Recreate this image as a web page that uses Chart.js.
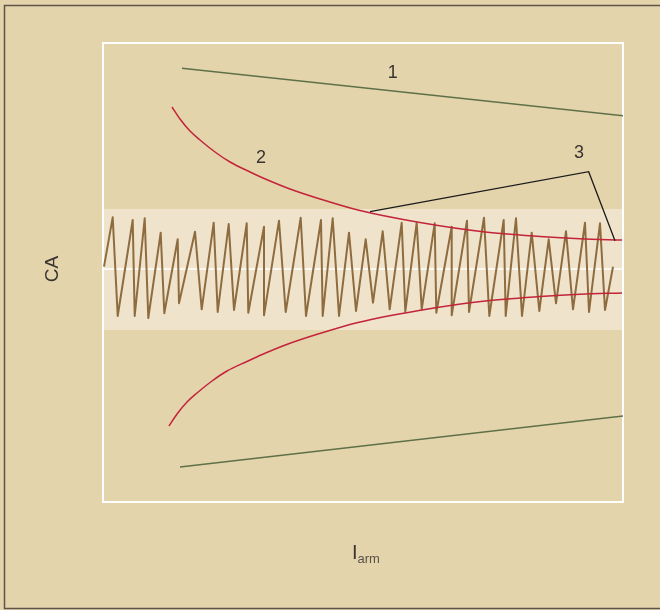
<!DOCTYPE html>
<html>
<head>
<meta charset="utf-8">
<script src="https://cdn.jsdelivr.net/npm/chart.js@4/dist/chart.umd.min.js"></script>
<style>
  body { margin: 0; background: #e4d4ac; }
  canvas { display: block; }
</style>
</head>
<body>
<canvas id="chart" width="660" height="610"></canvas>
<script>
// values (arbitrary units, I_arm across, CA up)
const xRange = [0, 520];
const yRange = [-233, 226];
const bandRange = [-61, 60];

// curve 1 - green straight limits
const line1TopX = [79, 520];
const line1TopY = [200.7, 153.3];
const line1BotX = [77, 520];
const line1BotY = [-198, -147];

// curve 2 - red limits
const curve2TopX = [69, 77, 87, 97, 112, 127, 147, 160, 187, 217, 257, 317, 380, 437, 477, 519];
const curve2TopY = [162, 150, 138, 129, 117, 107, 97, 91, 80, 70, 58.4, 46.4, 37.2, 32.5, 30.2, 29];
const curve2BotX = [66, 74, 84, 94, 109, 124, 145, 158, 185, 215, 255, 316, 380, 437, 477, 519];
const curve2BotY = [-157, -145, -133, -124, -112, -102, -92, -86, -75, -65, -53.4, -41.4, -32.2, -27.5, -25.2, -24];

// the CA signal
const zigX = [1, 9.7, 14.7, 29.7, 31.7, 41.7, 45.3, 57.7, 61.3, 74.7, 76, 92, 98.7, 110.7, 114.7,
  125.7, 131, 143.7, 145.3, 161, 161, 176, 182.7, 197.7, 203, 218, 219.7, 229.7, 236, 246, 253,
  262.7, 270, 279.7, 286.7, 298.7, 302.3, 313.7, 318.7, 331.7, 333.3, 348.7, 348.7, 364, 366, 381,
  386.3, 400.7, 402.7, 413, 419, 428.7, 436.3, 445.7, 453, 463, 470, 482, 486, 497, 502, 510];
const zigY = [2.3, 51.7, -47, 49, -47, 50.7, -49, 36.3, -44.3, 29.7, -34.3, 37.3, -40.3, 46.3, -43,
  45, -41, 45.7, -43.7, 42.3, -46.3, 48.3, -43, 51.3, -47, 49, -47, 50.7, -47, 36.3, -42,
  29.7, -33.7, 37.7, -40.3, 46.3, -42.7, 46.3, -40.3, 45.7, -43.7, 42.3, -46.3, 48.3, -43, 51.3,
  -47, 49, -47, 50.7, -47, 36.3, -42, 29.7, -34.3, 37.7, -40.3, 46.3, -43, 45.7, -41, 2.3];

// pointer for label 3
const pointerX = [267, 485.7, 512];
const pointerY = [57.3, 97.3, 28.3];

const labelText = ['1', '2', '3'];
const labelX = [289.7, 158, 476];
const labelY = [195.7, 110.7, 115.7];

function pts(xs, ys) {
  return xs.map((x, i) => ({ x: x, y: ys[i] }));
}

const bgColor = '#e4d4ac';
const bandColor = '#efe3cb';
const textColor = '#3a3430';

const decor = {
  id: 'decor',
  beforeDraw(chart) {
    const ctx = chart.ctx;
    ctx.save();
    ctx.fillStyle = bgColor;
    ctx.fillRect(0, 0, chart.width, chart.height);
    ctx.strokeStyle = '#5e5447';
    ctx.lineWidth = 1.5;
    ctx.beginPath();
    ctx.moveTo(670, 5.5);
    ctx.lineTo(4.5, 5.5);
    ctx.lineTo(4.5, 608.5);
    ctx.lineTo(670, 608.5);
    ctx.stroke();
    ctx.restore();
  },
  beforeDatasetsDraw(chart) {
    const ctx = chart.ctx;
    const a = chart.chartArea;
    const y = chart.scales.y;
    ctx.save();
    const yt = y.getPixelForValue(bandRange[1]);
    const yb = y.getPixelForValue(bandRange[0]);
    ctx.fillStyle = bandColor;
    ctx.fillRect(a.left, yt, a.right - a.left, yb - yt);
    ctx.strokeStyle = '#ffffff';
    ctx.lineWidth = 1.5;
    ctx.beginPath();
    ctx.moveTo(a.left, y.getPixelForValue(0));
    ctx.lineTo(a.right, y.getPixelForValue(0));
    ctx.stroke();
    ctx.lineWidth = 2;
    ctx.strokeRect(a.left, a.top, a.right - a.left, a.bottom - a.top);
    ctx.restore();
  },
  afterDatasetsDraw(chart) {
    const ctx = chart.ctx;
    const sx = chart.scales.x, sy = chart.scales.y;
    const a = chart.chartArea;
    ctx.save();
    ctx.fillStyle = textColor;
    ctx.textAlign = 'center';
    ctx.textBaseline = 'middle';
    ctx.font = '18px "Liberation Sans", Arial, sans-serif';
    labelText.forEach((t, i) => {
      ctx.fillText(t, sx.getPixelForValue(labelX[i]), sy.getPixelForValue(labelY[i]));
    });
    // y title
    ctx.save();
    ctx.translate(a.left - 50, sy.getPixelForValue(0));
    ctx.rotate(-Math.PI / 2);
    ctx.font = '19px "Liberation Sans", Arial, sans-serif';
    ctx.fillText('CA', 0, 0);
    ctx.restore();
    // x title with subscript
    ctx.textAlign = 'left';
    ctx.textBaseline = 'alphabetic';
    ctx.font = '20px "Liberation Sans", Arial, sans-serif';
    const tx = 352, ty = 559;
    ctx.fillText('I', tx, ty);
    const w = ctx.measureText('I').width;
    ctx.fillStyle = '#5a5248';
    ctx.font = '13px "Liberation Sans Narrow", "Liberation Sans", Arial, sans-serif';
    ctx.fillText('arm', tx + w, ty + 4);
    ctx.restore();
  }
};

new Chart(document.getElementById('chart'), {
  type: 'scatter',
  data: {
    datasets: [
      { data: pts(pointerX, pointerY), borderColor: '#1a1a1a', borderWidth: 1.3, order: 0 },
      { data: pts(curve2TopX, curve2TopY), borderColor: '#c3243a', borderWidth: 1.5, cubicInterpolationMode: 'monotone', order: 1 },
      { data: pts(curve2BotX, curve2BotY), borderColor: '#c3243a', borderWidth: 1.5, cubicInterpolationMode: 'monotone', order: 1 },
      { data: pts(zigX, zigY), borderColor: '#8e6c40', borderWidth: 2, borderJoinStyle: 'round', order: 2 },
      { data: pts(line1TopX, line1TopY), borderColor: '#5f7048', borderWidth: 1.5, order: 3 },
      { data: pts(line1BotX, line1BotY), borderColor: '#5f7048', borderWidth: 1.5, order: 3 }
    ].map(d => Object.assign({ showLine: true, pointRadius: 0, fill: false, tension: 0 }, d))
  },
  options: {
    responsive: false,
    animation: false,
    devicePixelRatio: 1,
    layout: { padding: { left: 103, right: 37, top: 43, bottom: 108 } },
    plugins: { legend: { display: false }, tooltip: { enabled: false } },
    scales: {
      x: { type: 'linear', min: xRange[0], max: xRange[1], display: false },
      y: { type: 'linear', min: yRange[0], max: yRange[1], display: false }
    }
  },
  plugins: [decor]
});
</script>
</body>
</html>
